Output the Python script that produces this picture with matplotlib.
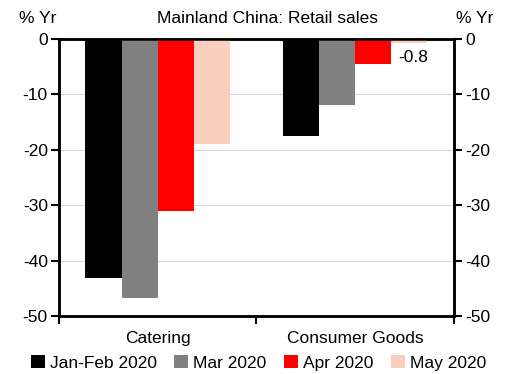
import matplotlib
matplotlib.use("Agg")
import matplotlib.pyplot as plt
import numpy as np

plt.rcParams['font.family'] = ['Liberation Sans', 'DejaVu Sans']
plt.rcParams['axes.unicode_minus'] = False

categories = ["Catering", "Consumer Goods"]
series_names = ["Jan-Feb 2020", "Mar 2020", "Apr 2020", "May 2020"]
series_values = [
    [-43.1, -17.6],
    [-46.8, -12.0],
    [-31.1, -4.5],
    [-18.9, -0.8],
]
colors = ["#000000", "#808080", "#ff0000", "#f9d0bd"]
yticks = [0, -10, -20, -30, -40, -50]

fig = plt.figure(figsize=(5.17, 3.74), dpi=100)
ax = fig.add_axes([0.114, 0.155, 0.764, 0.741])

x = np.arange(len(categories))
width = 0.183
offsets = (np.arange(len(series_names)) - 1.5) * width
for vals, off, col, name in zip(series_values, offsets, colors, series_names):
    ax.bar(x + off, vals, width, color=col, label=name, zorder=3)

# value label on the last consumer-goods bar
ax.annotate(f"{series_values[3][1]:.1f}", xy=(x[1] + offsets[3], series_values[3][1]),
            xytext=(3, -5), textcoords="offset points", ha="center", va="top", fontsize=12.5)

ax.set_xlim(-0.5, 1.5)
ax.set_ylim(-50, 0)
ax.set_yticks(yticks)
ax.set_yticklabels([str(t) for t in yticks], fontsize=12.5)
ax.yaxis.grid(True, color="#d9d9d9", linewidth=0.8, zorder=0)
ax.set_axisbelow(True)

ax.set_xticks([-0.5, 0.5, 1.5])
ax.set_xticklabels([])
ax.set_xticks(x, minor=True)
ax.set_xticklabels(categories, minor=True, fontsize=12.5)
ax.tick_params(axis="x", which="major", direction="out", length=6, width=1.5)
ax.tick_params(axis="x", which="minor", length=0, pad=11)
ax.tick_params(axis="y", direction="out", length=6, width=1.5, pad=2)

for s in ax.spines.values():
    s.set_linewidth(1.8)

ax2 = ax.twinx()
ax2.set_ylim(-50, 0)
ax2.set_yticks(yticks)
ax2.set_yticklabels([str(t) for t in yticks], fontsize=12.5)
ax2.tick_params(axis="y", direction="out", length=6, width=1.5, pad=2)
for s in ax2.spines.values():
    s.set_linewidth(1.8)

fig.text(0.517, 0.95, "Mainland China: Retail sales", ha="center", va="center", fontsize=12.5)
fig.text(0.072, 0.95, "% Yr", ha="center", va="center", fontsize=12.5)
fig.text(0.918, 0.95, "% Yr", ha="center", va="center", fontsize=12.5)

handles, labels = ax.get_legend_handles_labels()
fig.legend(handles, labels, loc="center", bbox_to_anchor=(0.5, 0.03), ncol=4,
           frameon=False, fontsize=12.5, handlelength=0.8, handleheight=0.8,
           handletextpad=0.3, columnspacing=1.0, borderaxespad=0.0, borderpad=0.0)

fig.savefig("out.png", dpi=100)
